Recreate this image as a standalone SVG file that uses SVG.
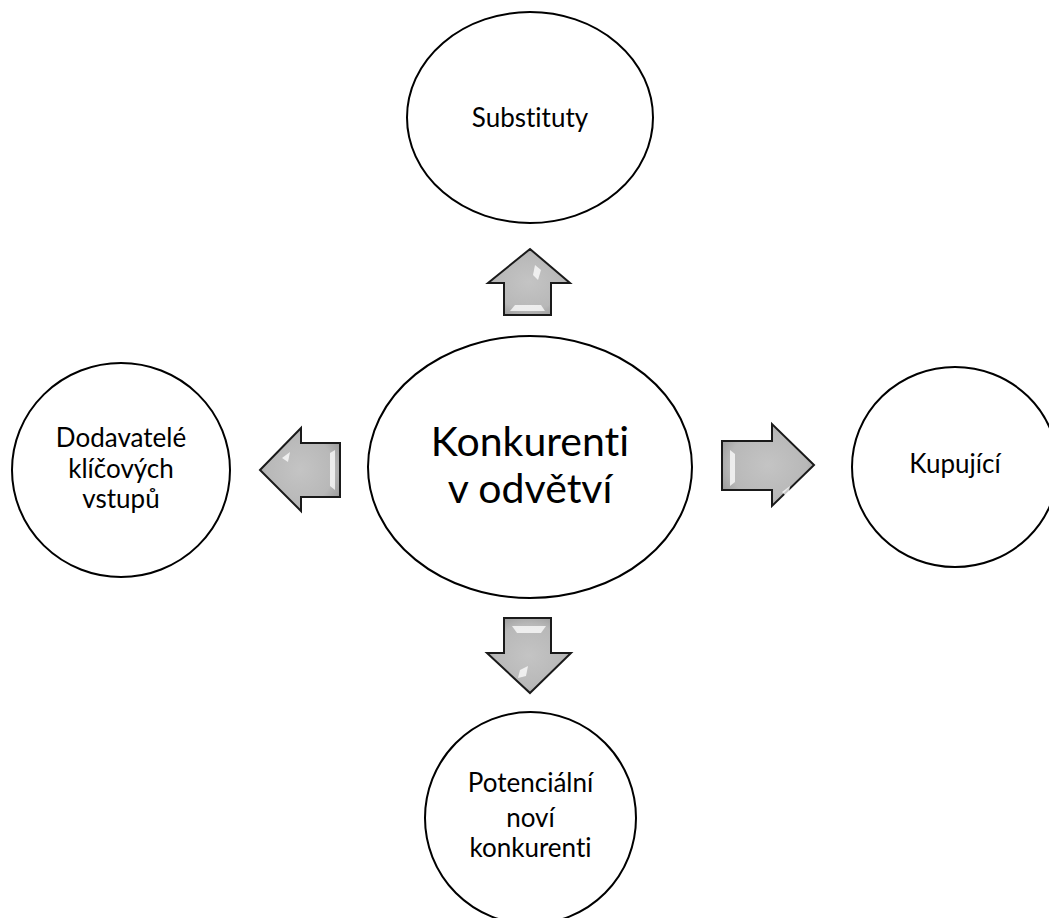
<svg xmlns="http://www.w3.org/2000/svg" width="1049" height="918" viewBox="0 0 1049 918">
  <style>
    .node { fill: #ffffff; stroke: #000000; stroke-width: 2; }
    .lbl { font-family: Lato, "Open Sans", "Liberation Sans", sans-serif; fill: #000000; text-anchor: middle; font-variant-ligatures: none; font-feature-settings: "liga" 0; }
    .s { font-size: 26px; }
    .big { font-size: 41px; }
    .arrow { fill: url(#ag); stroke: #1a1a1a; stroke-width: 2; stroke-linejoin: miter; }
    .hl { fill: #ffffff; opacity: 0.75; }
  </style>
  <defs>
    <radialGradient id="ag" cx="50%" cy="50%" r="60%">
      <stop offset="0" stop-color="#c4c4c4"/>
      <stop offset="0.7" stop-color="#b8b8b8"/>
      <stop offset="1" stop-color="#999999"/>
    </radialGradient>
  </defs>
  <rect width="1049" height="918" fill="#ffffff"/>

  <g id="connectors">
    <g id="arrow-up">
      <polygon class="arrow" points="530,249 570,283 551,283 551,315 504,315 504,283 488,283"/>
      <polygon class="hl" points="515,305 541,305 545,311 510,311"/>
      <polygon class="hl" points="535,265 541,270 538,280 533,275" opacity="0.5"/>
    </g>
    <g id="arrow-left">
      <polygon class="arrow" points="260,470 301,428 301,443 340,443 340,497 301,497 301,511"/>
      <polygon class="hl" points="330,453 335,450 335,490 330,486"/>
      <polygon class="hl" points="282,458 290,452 288,462" opacity="0.5"/>
    </g>
    <g id="arrow-right">
      <polygon class="arrow" points="814,465 772,424 772,441 722,441 722,490 772,490 772,506"/>
      <polygon class="hl" points="730,450 735,454 735,482 730,486"/>
      <polygon class="hl" points="782,492 790,486 788,498" opacity="0.5"/>
    </g>
    <g id="arrow-down">
      <polygon class="arrow" points="530,693 571,653 551,653 551,618 504,618 504,653 487,653"/>
      <polygon class="hl" points="512,626 546,626 541,633 517,633"/>
      <polygon class="hl" points="520,670 528,666 526,676 518,678" opacity="0.5"/>
    </g>
  </g>

  <g id="node-substituty">
    <ellipse class="node" cx="530" cy="117.5" rx="123" ry="105.5"/>
    <text class="lbl s" x="530" y="127">Substituty</text>
  </g>
  <g id="node-dodavatele">
    <ellipse class="node" cx="121" cy="470" rx="109" ry="107"/>
    <text class="lbl s" x="121" y="447">Dodavatelé</text>
    <text class="lbl s" x="121" y="478">klíčových</text>
    <text class="lbl s" x="121" y="508">vstupů</text>
  </g>
  <g id="node-konkurenti">
    <ellipse class="node" cx="530" cy="467" rx="162" ry="131"/>
    <text class="lbl big" x="530" y="456">Konkurenti</text>
    <text class="lbl big" x="530" y="503">v odvětví</text>
  </g>
  <g id="node-kupujici">
    <ellipse class="node" cx="955" cy="467" rx="103" ry="100"/>
    <text class="lbl s" x="955" y="473">Kupující</text>
  </g>
  <g id="node-potencialni">
    <ellipse class="node" cx="530.5" cy="818" rx="105.5" ry="106"/>
    <text class="lbl s" x="530.5" y="792">Potenciální</text>
    <text class="lbl s" x="530.5" y="827">noví</text>
    <text class="lbl s" x="530.5" y="857">konkurenti</text>
  </g>
</svg>
